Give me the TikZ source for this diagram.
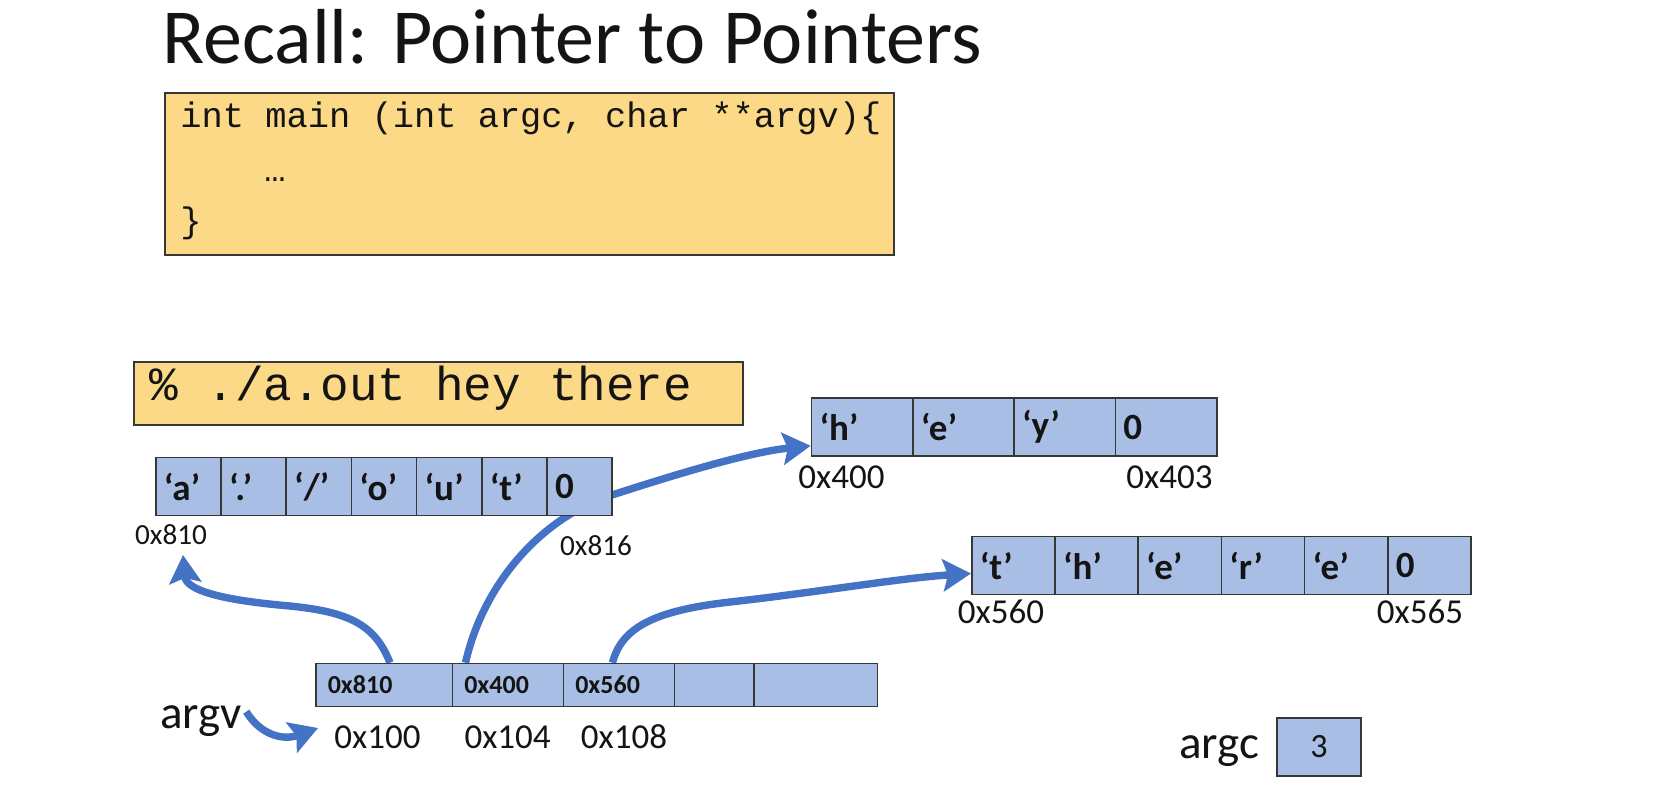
\documentclass[tikz,border=0pt]{standalone}
\usepackage{fontspec}
\setmainfont{Carlito}
\newfontfamily\codefont{Liberation Mono}
\usetikzlibrary{arrows.meta,calc}

\definecolor{cellblue}{RGB}{169,190,228}
\definecolor{codeyellow}{RGB}{252,217,134}
\definecolor{arrowblue}{RGB}{68,114,196}
\definecolor{edgegray}{RGB}{55,55,55}
\definecolor{inkblack}{RGB}{20,20,20}

\newcommand\fsz[1]{\fontsize{#1}{#1}\selectfont}

\pgfdeclarelayer{behind}
\pgfsetlayers{behind,main}

\begin{document}
\begin{tikzpicture}[x=0.5pt,y=-0.5pt,
  every node/.style={text=inkblack},
  yellowbox/.style={draw=edgegray, line width=1pt, fill=codeyellow, inner sep=0pt},
  codeline/.style={anchor=base west, inner sep=0pt, font=\codefont\fsz{17.7}},
  cellbox/.style={draw=edgegray, line width=0.8pt, fill=cellblue, inner xsep=4pt,
                  inner ysep=0pt, anchor=west, minimum height=29pt, font=\bfseries\fsz{18.5}},
  ptrcell/.style={cellbox, inner xsep=6pt, minimum height=21.5pt, font=\bfseries\fsz{13}},
  addr/.style={inner sep=0pt, font=\fsz{17.5}},
  smalladdr/.style={inner sep=0pt, font=\fsz{14.6}},
  varname/.style={anchor=base, inner sep=0pt, font=\fsz{23.5}},
  ptr/.style={draw=arrowblue, line width=3.7pt,
              -{Stealth[length=14pt,width=16pt,inset=2.5pt]}}]

\useasboundingbox (0,0) rectangle (1658,788);

% heading
\node[anchor=base west, inner sep=0pt, font=\fsz{39}] (title) at (162,63)
  {Recall: Pointer to Pointers};

% the C source
\node[yellowbox, minimum width=364.5pt, minimum height=81pt] (codebox) at (529.5,174) {};
\node[codeline] (code1) at (180,127) {int main (int argc, char **argv)\{};
\node[codeline] (code2) at (264,181) {…};
\node[codeline] (code3) at (180,232) {\}};

% the shell command
\node[yellowbox, minimum width=304.5pt, minimum height=31.5pt] (cmdbox) at (438.5,393.5) {};
\node[codeline, font=\codefont\fsz{23.8}] (cmd) at (149,400) {\% ./a.out hey there};

% "./a.out"
\foreach \t [count=\i from 0] in {‘a’,‘.’,‘/’,‘o’,‘u’,‘t’,0}
  \node[cellbox] (a\i) at (155+65.2*\i,486.5) {\makebox[24.6pt][l]{\t}};
\node[smalladdr] (lbl810) at (171,535) {0x810};
\node[smalladdr] (lbl816) at (596,546) {0x816};

% "hey"
\foreach \t [count=\i from 0] in {‘h’,‘e’,‘y’,0}
  \node[cellbox] (h\i) at (810.7+101.3*\i,427) {\makebox[42.65pt][l]{\t}};
\node[addr] (lbl400) at (841.5,477) {0x400};
\node[addr] (lbl403) at (1169.5,477) {0x403};

% "there"
\foreach \t [count=\i from 0] in {‘t’,‘h’,‘e’,‘r’,‘e’,0}
  \node[cellbox] (t\i) at (971+83.2*\i,565.5) {\makebox[33.6pt][l]{\t}};
\node[addr] (lbl560) at (1001,612) {0x560};
\node[addr] (lbl565) at (1420,612) {0x565};

% the argv array of pointers
\node[ptrcell] (v0) at (315,685)   {\makebox[56.25pt][l]{0x810}};
\node[ptrcell] (v1) at (451.5,685) {\makebox[43.5pt][l]{0x400}};
\node[ptrcell] (v2) at (562.5,685) {\makebox[43.55pt][l]{0x560}};
\node[ptrcell] (v3) at (673.6,685) {\makebox[27.7pt][l]{}};
\node[ptrcell] (v4) at (753,685)   {\makebox[49.8pt][l]{}};
\node[addr] (lbl100) at (377.5,737) {0x100};
\node[addr] (lbl104) at (507.6,737) {0x104};
\node[addr] (lbl108) at (624,737)   {0x108};

\node[varname] (argvlbl) at (201,728) {argv};

% argc
\node[varname] (argclbl) at (1219,758) {argc};
\node[draw=edgegray, line width=0.8pt, fill=cellblue, minimum width=42pt,
      minimum height=29pt, inner sep=0pt, font=\fsz{17}] (argcbox) at (1319,747) {3};

% pointer arrows, drawn underneath the cells
\begin{pgfonlayer}{behind}
\draw[ptr] ($(v0.north west)+(75,0)$)
  .. controls (375,625) and (350,612) .. (290,606)
  .. controls (220,600) and (186,590) .. ($(lbl810)+(12,20)$);
\draw[ptr] ($(v1.north west)+(14,0)$)
  .. controls (483,585) and (540,518) .. (612,495)
  .. controls (680,473) and (750,452) .. ($(h0.south west)+(0,-11)$);
\draw[ptr] ($(v2.north west)+(50,0)$)
  .. controls (622,625) and (660,610) .. (730,602)
  .. controls (820,592) and (900,578) .. ($(t0.west)+(0,8)$);
\draw[ptr] ($(argvlbl.east)+(4,-9)$)
  .. controls (262,737) and (285,740) .. ($(lbl100.west)+(-16,-9)$);
\end{pgfonlayer}

\end{tikzpicture}
\end{document}
